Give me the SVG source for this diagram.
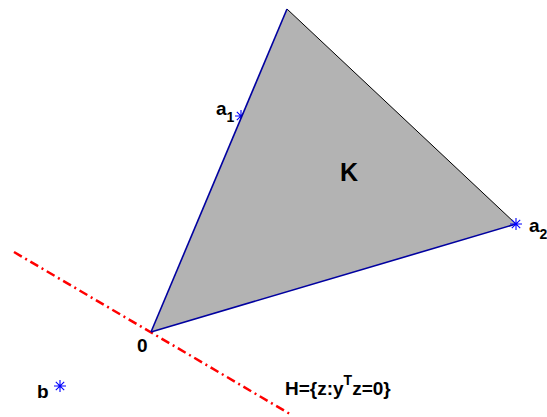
<svg xmlns="http://www.w3.org/2000/svg" width="547" height="417" viewBox="0 0 547 417">
<defs>
<style>
.lbl{font-family:"Liberation Sans",Arial,sans-serif;font-weight:bold;font-size:19px;fill:#000}
.sub{font-size:14px}
.star{stroke:#0000ff;stroke-width:1.1;fill:none}
.hline{stroke:#ff0000;stroke-width:2.5;fill:none;stroke-dasharray:9 4 2 4}
</style>
<g id="starshape">
<path class="star" d="M-6,0H6M0,-6V6M-4.2,-4.2L4.2,4.2M-4.2,4.2L4.2,-4.2"/>
</g>
</defs>
<rect width="547" height="417" fill="#fff"/>
<g id="connectors">
<line class="hline" x1="14" y1="252" x2="290" y2="414"/>
</g>
<g id="a1">
<use href="#starshape" x="241" y="116"/>
<text class="lbl" x="216" y="115">a<tspan class="sub" dy="7">1</tspan></text>
</g>
<g id="K">
<polygon points="151,332 287,9 516,224" fill="#b3b3b3" stroke="none"/>
<line x1="287" y1="9" x2="516" y2="224" stroke="#000" stroke-width="1"/>
<line x1="151" y1="332" x2="287" y2="9" stroke="#0000a0" stroke-width="1.6"/>
<line x1="151" y1="332" x2="516" y2="224" stroke="#0000a0" stroke-width="1.6"/>
<text class="lbl" x="340" y="181" style="font-size:25px">K</text>
</g>
<g id="a2">
<use href="#starshape" x="516" y="224"/>
<text class="lbl" x="529" y="232">a<tspan class="sub" dy="7">2</tspan></text>
</g>
<g id="origin">
<text class="lbl" x="137" y="352">0</text>
</g>
<g id="b">
<use href="#starshape" x="60" y="386"/>
<text class="lbl" x="37" y="398">b</text>
</g>
<g id="H">
<text class="lbl" x="285" y="395">H={z:y<tspan class="sub" dy="-10">T</tspan><tspan dy="10">z=0}</tspan></text>
</g>
</svg>
